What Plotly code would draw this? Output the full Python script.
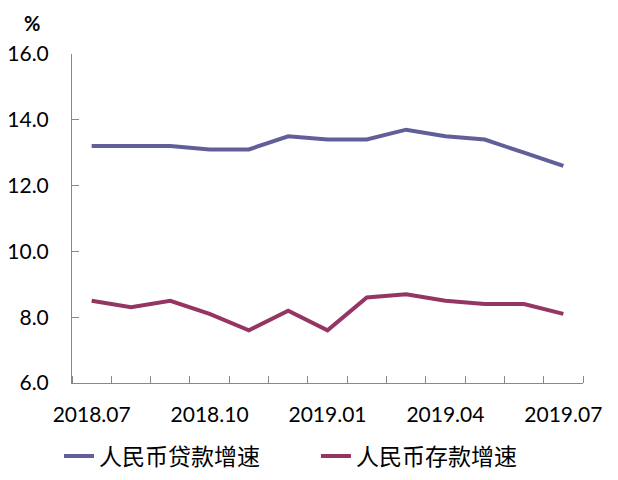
import plotly.graph_objects as go

months = ["2018.07", "2018.08", "2018.09", "2018.10", "2018.11", "2018.12", "2019.01",
          "2019.02", "2019.03", "2019.04", "2019.05", "2019.06", "2019.07"]
loan_growth = [13.2, 13.2, 13.2, 13.1, 13.1, 13.5, 13.4, 13.4, 13.7, 13.5, 13.4, 13.0, 12.6]
deposit_growth = [8.5, 8.3, 8.5, 8.1, 7.6, 8.2, 7.6, 8.6, 8.7, 8.5, 8.4, 8.4, 8.1]
label_months = ["2018.07", "2018.10", "2019.01", "2019.04", "2019.07"]
y_ticks = [6.0, 8.0, 10.0, 12.0, 14.0, 16.0]

xi = list(range(len(months)))
label_pos = [months.index(m) for m in label_months]

fig = go.Figure()
fig.add_trace(go.Scatter(x=xi, y=loan_growth, mode="lines", name="人民币贷款增速",
                         line=dict(color="#625E98", width=4)))
fig.add_trace(go.Scatter(x=xi, y=deposit_growth, mode="lines", name="人民币存款增速",
                         line=dict(color="#953563", width=4)))

num_font = dict(family="Lato, 'Open Sans', sans-serif", size=21, color="#000000")

fig.update_layout(
    width=618, height=480,
    margin=dict(l=72, r=35, t=54, b=97, autoexpand=False),
    paper_bgcolor="white", plot_bgcolor="white",
    showlegend=True,
    legend=dict(orientation="h", x=-0.0255, xanchor="left",
                y=-0.222, yanchor="middle",
                entrywidth=212, entrywidthmode="pixels",
                font=dict(family="'Noto Sans CJK SC', sans-serif", size=23, color="#000"),
                bgcolor="rgba(0,0,0,0)"),
    xaxis=dict(range=[-0.5, len(months) - 0.5], showgrid=False, zeroline=False,
               showline=True, linecolor="#888888", linewidth=1,
               tickvals=label_pos, ticktext=label_months, ticks="",
               ticklabelstandoff=13, tickfont=num_font,
               minor=dict(tickvals=[i - 0.5 for i in range(len(months) + 1)],
                          ticks="inside", ticklen=7, tickcolor="#888888", tickwidth=1)),
    yaxis=dict(range=[6.0, 16.0], showgrid=False, zeroline=False,
               showline=True, linecolor="#888888", linewidth=1,
               tickvals=y_ticks, ticktext=[f"{v:.1f}" for v in y_ticks],
               ticks="inside", ticklen=7, tickcolor="#888888",
               ticklabelstandoff=18, tickfont=num_font),
    annotations=[dict(text="<b>%</b>", xref="paper", yref="paper", x=-0.078, y=1.095,
                      xanchor="center", yanchor="middle", showarrow=False,
                      font=dict(family="Lato, sans-serif", size=20, color="#000"))],
)

fig.write_html("out.html")
